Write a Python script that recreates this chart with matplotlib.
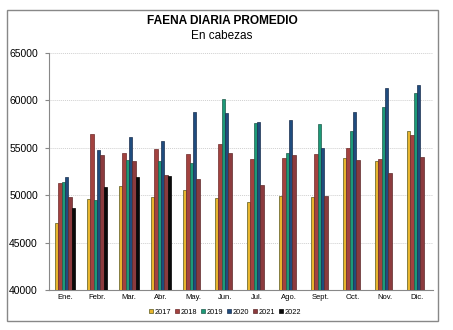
import numpy as np
import matplotlib
matplotlib.use("Agg")
import matplotlib.pyplot as plt
from matplotlib.patches import Rectangle

plt.rcParams['font.family'] = ['Liberation Sans', 'DejaVu Sans']

meses = ["Ene.", "Febr.", "Mar.", "Abr.", "May.", "Jun.", "Jul.", "Ago.",
         "Sept.", "Oct.", "Nov.", "Dic."]
anios = ["2017", "2018", "2019", "2020", "2021", "2022"]

faena_2017 = [47040, 49570, 50950, 49790, 50560, 49710, 49290, 49930, 49820, 53940, 53620, 56750]
faena_2018 = [51270, 56470, 54500, 54890, 54390, 55420, 53800, 53970, 54360, 55030, 53800, 56330]
faena_2019 = [51400, 49500, 53730, 53620, 53410, 60140, 57620, 54500, 57530, 56790, 59320, 60800]
faena_2020 = [51960, 54780, 56190, 55770, 58800, 58620, 57700, 57880, 55030, 58800, 61260, 61620]
faena_2021 = [49850, 54260, 53590, 52140, 51690, 54430, 51120, 54220, 49960, 53760, 52390, 54010]
faena_2022 = [48700, 50910, 51960, 52040]

series = [faena_2017, faena_2018, faena_2019, faena_2020, faena_2021, faena_2022]
colores = ["#E8B52E", "#A3423F", "#1C9A78", "#1F4C7E", "#8C3B3E", "#0A0A0A"]
bordes = ["#5A5A20", "#6E2A2A", "#1F5A4A", "#1A2F4F", "#5E2A2A", "#000000"]

fig = plt.figure(figsize=(4.53, 3.30), dpi=100)
ax = fig.add_axes([49 / 453, 40 / 330, 384 / 453, 237 / 330])

x = np.arange(len(meses))
ancho = 0.105
for i, (vals, c, b, a) in enumerate(zip(series, colores, bordes, anios)):
    pos = x[:len(vals)] + (i - 2.5) * ancho
    ax.bar(pos, vals, width=ancho, color=c, edgecolor=b, linewidth=0.5,
           label=a, zorder=3)

ax.set_ylim(40000, 65000)
ax.set_xlim(-0.5, len(meses) - 0.5)
ax.set_yticks(np.arange(40000, 65001, 5000))
ax.set_xticks(x)
ax.set_xticklabels(meses, fontsize=5.5)
ax.tick_params(axis='y', labelsize=7.5, length=3, color="#888888", pad=5)
ax.tick_params(axis='x', length=0, pad=3)

ax.yaxis.grid(True, linestyle=(0, (1, 1)), color="#D0D0D0", linewidth=0.7, zorder=0)
for s in ["top", "right"]:
    ax.spines[s].set_visible(False)
ax.spines["left"].set_color("#888888")
ax.spines["bottom"].set_color("#888888")

leg = fig.legend(loc="center", bbox_to_anchor=(225 / 453, 1 - 312 / 330), ncol=6,
                 fontsize=5.3, frameon=False, handlelength=0.6, handleheight=0.6,
                 handletextpad=0.2, columnspacing=0.5)

fig.text(222 / 453, 1 - 21 / 330, "FAENA DIARIA PROMEDIO", ha="center", va="center",
         fontsize=8.6, fontweight="bold")
fig.text(222 / 453, 1 - 36 / 330, "En cabezas", ha="center", va="center", fontsize=8.5)

fig.patches.append(Rectangle((7 / 453, 1 - 321 / 330), 431 / 453, 311 / 330,
                             transform=fig.transFigure, fill=False,
                             edgecolor="#888888", linewidth=1.0))

fig.savefig("out.png", dpi=100)
